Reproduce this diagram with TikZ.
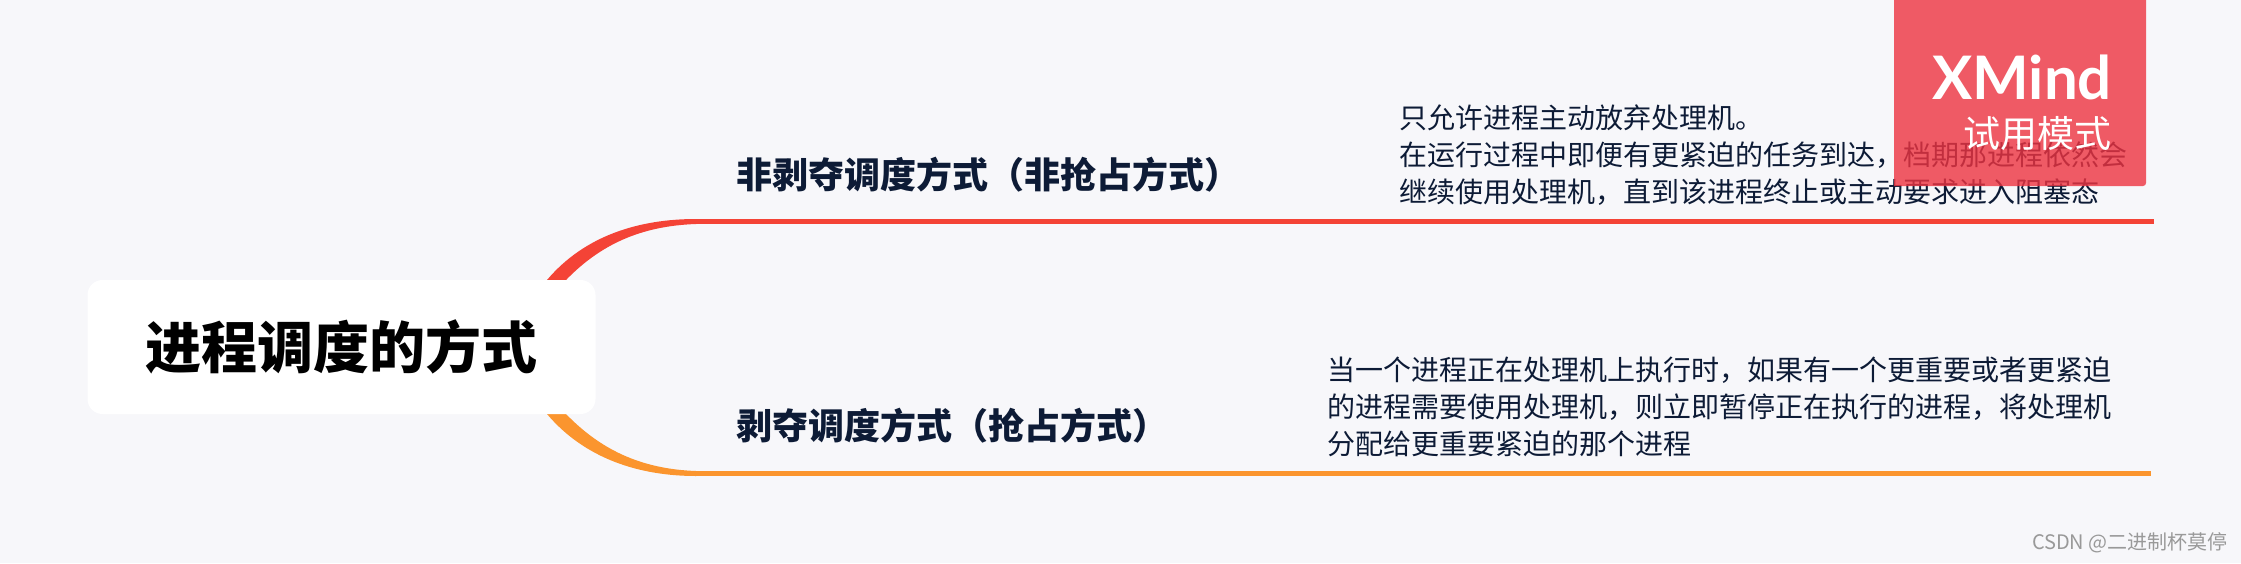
\documentclass[tikz,border=0pt]{standalone}
\usepackage{fontspec}
\setmainfont{Noto Sans CJK SC}
\newfontfamily\cjk{Noto Sans CJK SC}
\newfontfamily\logofont{Lato}
\definecolor{bgc}{HTML}{F7F7FA}
\definecolor{navy}{HTML}{0D1B36}
\definecolor{redb}{HTML}{F44336}
\definecolor{orab}{HTML}{FB952E}
\definecolor{wm}{HTML}{EE3340}
\tikzset{
 central/.style={fill=white,rounded corners=15pt,minimum width=508pt,minimum height=134pt,inner sep=0pt,font=\fontsize{56}{60}\selectfont\bfseries,text=black},
 topiclabel/.style={anchor=west,inner sep=0pt,font=\fontsize{36}{40}\selectfont\bfseries,text=navy},
 detail/.style={anchor=west,inner sep=0pt,align=left,font=\fontsize{28}{37}\selectfont,text=navy},
 branchline/.style={line width=4.5pt},
 trial/.style={fill=wm,fill opacity=0.8},
}
\begin{document}
\begin{tikzpicture}[x=1pt,y=-1pt]
\useasboundingbox (0,0) rectangle (2241,563);
\fill[bgc] (0,0) rectangle (2241,563);
% branch anchor points
\coordinate (r0) at (696,221.5);
\coordinate (r1) at (2154,221.5);
\coordinate (o0) at (696,473.5);
\coordinate (o1) at (2151,473.5);
% tapered curves
\fill[redb] (547,290) -- (547,280) .. controls (585,235) and (640,219) .. (696,219) -- (696,224) .. controls (640,226) and (600,245) .. (566,280) -- (566,290) -- cycle;
\fill[orab] (547,404) -- (547,414) .. controls (585,459) and (640,476) .. (696,476) -- (696,471) .. controls (640,469) and (600,449) .. (566,414) -- (566,404) -- cycle;
\draw[branchline,redb] (r0) -- (r1);
\draw[branchline,orab] (o0) -- (o1);
\node[central] (root) at (341.5,347) {进程调度的方式};
\node[topiclabel] (t1) at (736,175) {非剥夺调度方式（非抢占方式）};
\node[topiclabel] (t2) at (736,426) {剥夺调度方式（抢占方式）};
\node[detail] (d1) at (1399,155) {只允许进程主动放弃处理机。\\在运行过程中即便有更紧迫的任务到达，档期那进程依然会\\继续使用处理机，直到该进程终止或主动要求进入阻塞态};
\node[detail] (d2) at (1327,407) {当一个进程正在处理机上执行时，如果有一个更重要或者更紧迫\\的进程需要使用处理机，则立即暂停正在执行的进程，将处理机\\分配给更重要紧迫的那个进程};
\fill[trial] (1894,0) -- (2146,0) -- (2146,183) arc[start angle=0,end angle=90,radius=3,y=1pt] -- (1894,186) -- cycle;
\node[anchor=east,inner sep=0pt,text=white,font=\fontsize{60}{70}\selectfont\logofont\bfseries] (logo) at (2112,77) {XMind};
\node[anchor=east,inner sep=0pt,text=white,font=\fontsize{37}{42}\selectfont] (mode) at (2112,134) {试用模式};
\node[anchor=east,inner sep=0pt,text=black!40,font=\fontsize{20}{24}\selectfont] (mark) at (2228,543) {CSDN @二进制杯莫停};
\end{tikzpicture}
\end{document}
